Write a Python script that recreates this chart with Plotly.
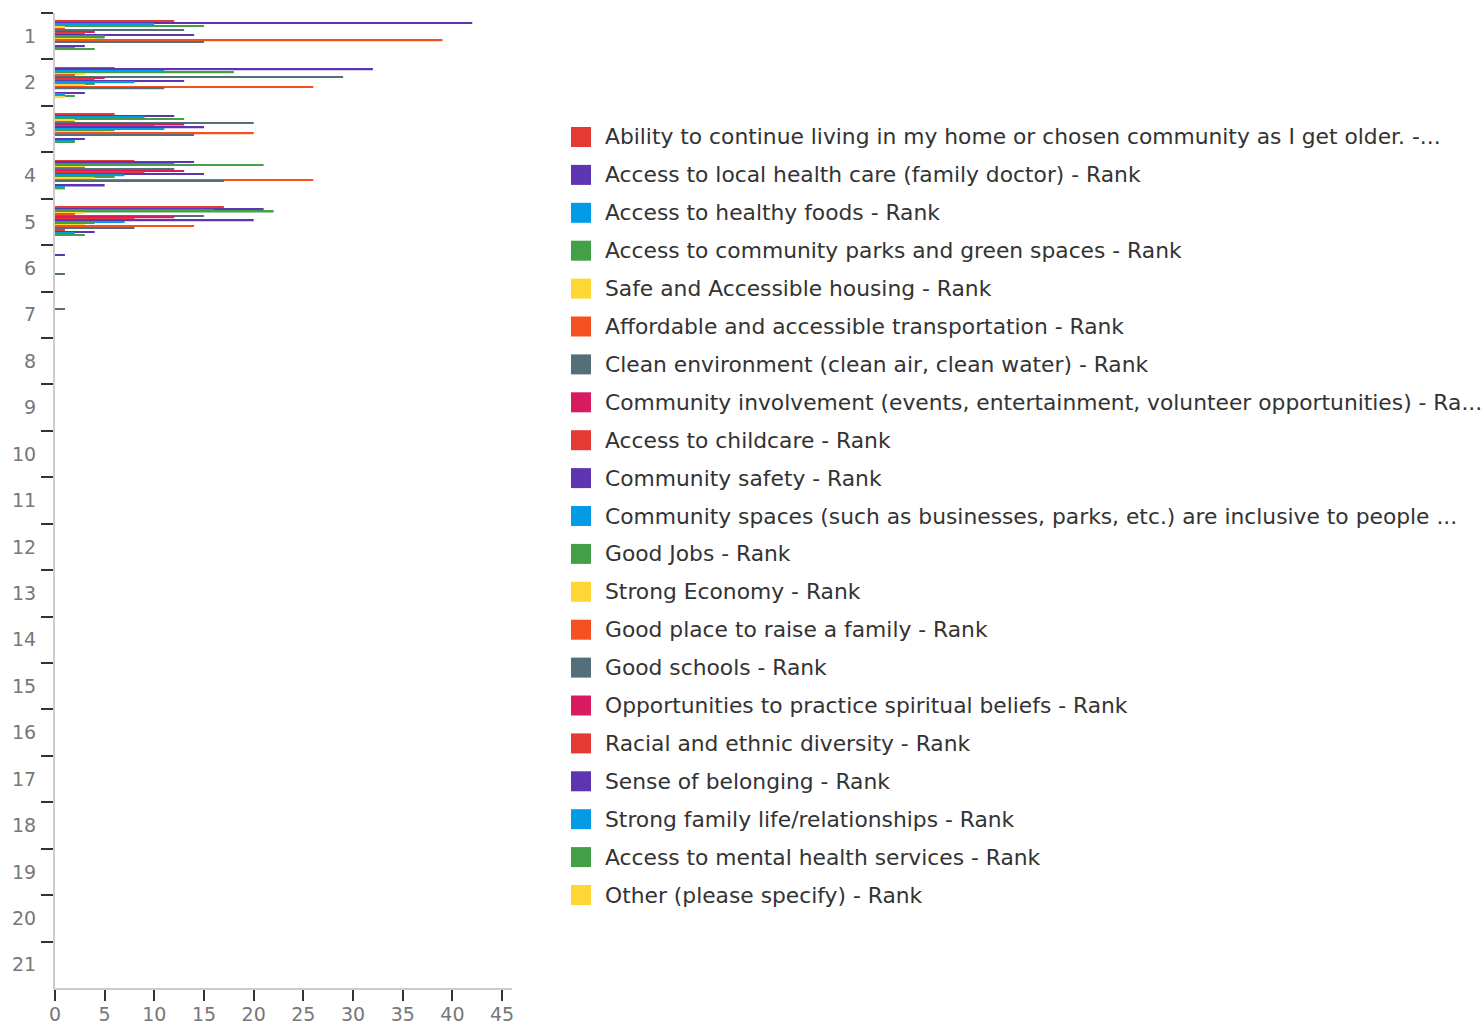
import plotly.graph_objects as go

# Rank positions shown on the vertical axis
ranks = [str(i) for i in range(1, 22)]

# Legend labels (series names)
series_names = [
    "Ability to continue living in my home or chosen community as I get older. -...",
    "Access to local health care (family doctor) - Rank",
    "Access to healthy foods - Rank",
    "Access to community parks and green spaces - Rank",
    "Safe and Accessible housing - Rank",
    "Affordable and accessible transportation - Rank",
    "Clean environment (clean air, clean water) - Rank",
    "Community involvement (events, entertainment, volunteer opportunities) - Ra...",
    "Access to childcare - Rank",
    "Community safety - Rank",
    "Community spaces (such as businesses, parks, etc.) are inclusive to people ...",
    "Good Jobs - Rank",
    "Strong Economy - Rank",
    "Good place to raise a family - Rank",
    "Good schools - Rank",
    "Opportunities to practice spiritual beliefs - Rank",
    "Racial and ethnic diversity - Rank",
    "Sense of belonging - Rank",
    "Strong family life/relationships - Rank",
    "Access to mental health services - Rank",
    "Other (please specify) - Rank",
]

# Response counts per rank (rank 1 first; later ranks are zero unless listed)
ability_home = [12, 6, 6, 8, 17]
health_care = [42, 32, 12, 14, 21, 1]
healthy_foods = [10, 11, 9, 12, 16]
parks_green = [15, 18, 13, 21, 22]
housing = [1, 3, 2, 3, 3]
transportation = [1, 2, 2, 3, 2]
clean_environment = [13, 29, 20, 12, 15, 0, 1]
community_involvement = [4, 5, 13, 13, 12]
childcare = [3, 4, 10, 9, 8]
community_safety = [14, 13, 15, 15, 20]
inclusive_spaces = [5, 8, 11, 7, 7]
good_jobs = [5, 4, 6, 6, 4]
strong_economy = [4, 3, 5, 4, 3]
raise_family = [39, 26, 20, 26, 14]
good_schools = [15, 11, 14, 17, 8, 1]
spiritual = [0, 0, 0, 0, 0]
diversity = [0, 0, 0, 0, 1]
belonging = [3, 3, 3, 5, 4]
family_life = [2, 1, 2, 1, 2]
mental_health = [4, 2, 2, 1, 3]
other = [0, 1, 0, 0, 0]

series_values = [
    ability_home, health_care, healthy_foods, parks_green, housing,
    transportation, clean_environment, community_involvement, childcare,
    community_safety, inclusive_spaces, good_jobs, strong_economy,
    raise_family, good_schools, spiritual, diversity, belonging,
    family_life, mental_health, other,
]

palette = ["#E53935", "#5E35B1", "#039BE5", "#43A047",
           "#FDD835", "#F4511E", "#546E7A", "#D81B60"]

FONT = "'DejaVu Sans', sans-serif"

fig = go.Figure()
for i, (name, vals) in enumerate(zip(series_names, series_values)):
    padded = list(vals) + [0] * (len(ranks) - len(vals))
    fig.add_trace(go.Bar(
        y=ranks,
        x=padded,
        name=name,
        orientation="h",
        marker=dict(color=palette[i % len(palette)], line=dict(width=0)),
        showlegend=False,
    ))

# Plot area geometry in pixels (used for the hand-built legend)
W, H = 1482, 1024
L, R, T, B = 55, 970, 13, 36
plot_w = W - L - R
plot_h = H - T - B

legend_x0 = 571
legend_y0 = 137
legend_step = 37.9
swatch = 20
text_x = 603


def px_to_paper_x(px):
    return (px - L) / plot_w


def px_to_paper_y(py):
    return (H - B - py) / plot_h


shapes = []
annotations = []
for i, name in enumerate(series_names):
    cy = legend_y0 + i * legend_step
    shapes.append(dict(
        type="rect", xref="paper", yref="paper",
        x0=px_to_paper_x(legend_x0), x1=px_to_paper_x(legend_x0 + swatch),
        y0=px_to_paper_y(cy - swatch / 2), y1=px_to_paper_y(cy + swatch / 2),
        fillcolor=palette[i % len(palette)], line=dict(width=0),
    ))
    annotations.append(dict(
        xref="paper", yref="paper",
        x=px_to_paper_x(text_x), y=px_to_paper_y(cy),
        xanchor="left", yanchor="middle",
        text=name, showarrow=False,
        font=dict(family=FONT, size=21.8, color="#333333"),
    ))

fig.update_layout(
    width=W, height=H,
    margin=dict(l=L, r=R, t=T, b=B, pad=0, autoexpand=False),
    paper_bgcolor="white", plot_bgcolor="white",
    barmode="group", bargap=0.34, bargroupgap=0,
    showlegend=False,
    shapes=shapes,
    annotations=annotations,
    font=dict(family=FONT),
    xaxis=dict(
        range=[0, 46], tick0=0, dtick=5,
        automargin=False,
        showgrid=False, zeroline=False,
        showline=True, linecolor="#cccccc", linewidth=2,
        ticks="outside", ticklen=11, tickwidth=2, tickcolor="#333333",
        tickfont=dict(family=FONT, size=19, color="#777777"),
        ticklabelstandoff=-3,
    ),
    yaxis=dict(
        type="category", categoryorder="array", categoryarray=ranks,
        autorange="reversed",
        automargin=False,
        showgrid=False, zeroline=False,
        showline=True, linecolor="#cccccc", linewidth=2,
        ticks="outside", ticklen=12, tickwidth=2, tickcolor="#333333",
        tickson="boundaries",
        tickfont=dict(family=FONT, size=19, color="#777777"),
        ticklabelstandoff=13,
    ),
)

fig.write_html("out.html")
